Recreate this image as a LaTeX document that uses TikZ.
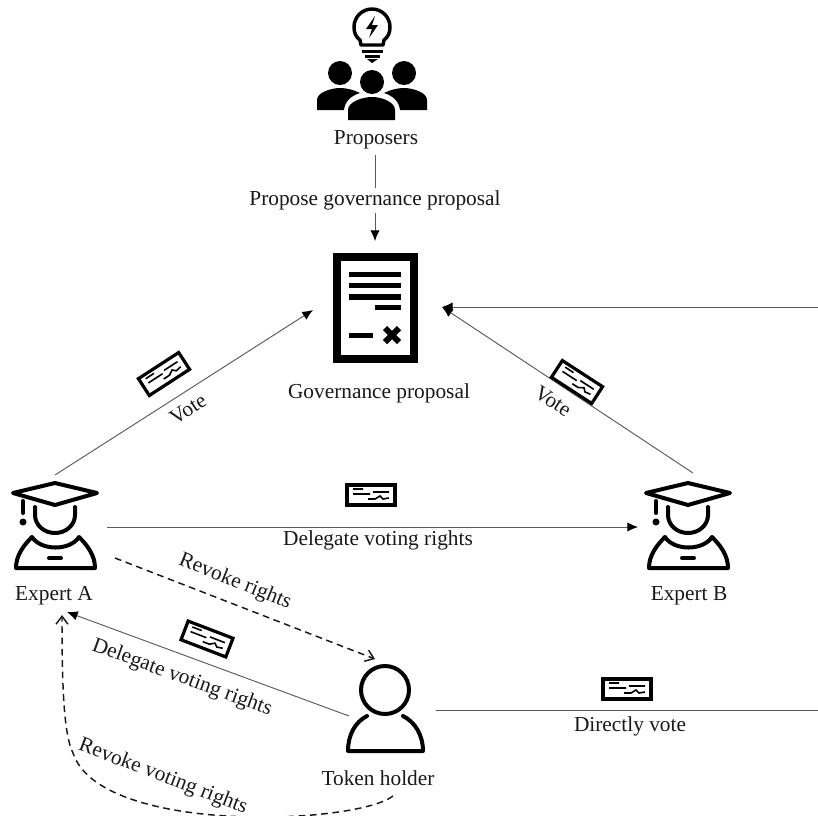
\documentclass[tikz,border=0pt]{standalone}
\usepackage{fontspec}
\setmainfont{Liberation Serif}
\usetikzlibrary{arrows.meta}
\tikzset{
  x=0.75pt, y=-0.75pt,
  every node/.style={font=\fontsize{16}{18}\selectfont, text=black!90},
  link/.style={draw=black!65, line width=0.7pt, -{Latex[length=8pt,width=7pt,black]}},
  dashlink/.style={draw=black!90, line width=1.1pt, dash pattern=on 5pt off 3.5pt, -{Straight Barb[length=6pt,width=9pt]}},
  pics/ballot/.style={code={
    \draw [line width=2.4pt] (-24,-10) rectangle (24,10);
    \draw [line width=1.2pt] (-18,-6)--(-8,-6) (-18,-1)--(-1,-1) (2,-3)--(18,-3) (-3,4)--(4,4) (4,4)--(9,1)--(12,4)--(18,3);
  }},
  pics/expert/.style={code={
    \begin{scope}[line width=3pt, line join=round, line cap=round]
    \draw (0,-42)--(-42,-32)--(0,-20)--(42,-32)--cycle;
    \draw (-20,-18)--(-20,-10) arc[start angle=180, end angle=0, x radius=20, y radius=18]--(20,-18);
    \draw (-32,-24)--(-32,-12);
    \draw (-23,12) .. controls (-31,20) and (-39,30) .. (-39,43)--(40,43) .. controls (40,30) and (32,20) .. (24,12) .. controls (15,26) and (-14,26) .. (-23,12);
    \draw (-6,33)--(6,33);
    \end{scope}
    \fill (-32,-3) circle[radius=3.5];
  }}
}
\begin{document}
\begin{tikzpicture}
\useasboundingbox (0,0) rectangle (818,815);
% proposers
\draw [line width=2.6pt, line join=round] (361,45)--(360,40) .. controls (356,37) and (354,33) .. (354,27) arc[start angle=180, end angle=360, radius=18] .. controls (390,33) and (388,37) .. (384,40)--(383,45)--cycle;
\fill (362,50) rectangle (383,53);
\fill (365,55) rectangle (380,58);
\fill (367,59)--(378,59)--(372,63)--cycle;
\fill (375,16)--(366,29)--(372,29)--(369,38)--(378,25)--(372,25)--cycle;
\fill (340,73) circle[radius=12];
\fill (404,73) circle[radius=12];
\fill (317,110)--(317,100) .. controls (317,92) and (332,88) .. (340,88) .. controls (347,88) and (354,90) .. (360,93) .. controls (350,96) and (345,102) .. (344,110)--cycle;
\fill (427,110)--(427,100) .. controls (427,92) and (412,88) .. (404,88) .. controls (397,88) and (390,90) .. (384,93) .. controls (394,96) and (399,102) .. (400,110)--cycle;
\fill (372,82) circle[radius=12];
\fill (348,120)--(348,110) .. controls (348,102) and (362,97) .. (372,97) .. controls (382,97) and (395,102) .. (395,110)--(395,120)--cycle;
\node (proposers) at (376,140) {Proposers};
% proposal
\draw [line width=6.5pt] (337,257) rectangle (414,359);
\fill (349,272) rectangle (401,277);
\fill (349,283) rectangle (401,288);
\fill (349,294) rectangle (401,300);
\fill (375,305) rectangle (401,310);
\fill (349,333) rectangle (373,338);
\draw [line width=4.5pt] (385,328)--(399,342) (399,328)--(385,342);
\node (proposal) at (379,393) {Governance proposal};
\coordinate (proposalT) at (375,241);
\coordinate (proposalL) at (313,310);
\coordinate (proposalR) at (442,307);
\coordinate (offR) at (818,307);
\coordinate (offR2) at (818,710);
% experts and holder
\pic at (55,525) {expert};
\pic at (688,525) {expert};
\node (expertA) at (54,596) {Expert A};
\node (expertB) at (689,596) {Expert B};
\draw [line width=3pt] (385,690) circle[radius=24];
\draw [line width=3pt, line join=round, line cap=round] (367,716) .. controls (355,722) and (348,735) .. (348,751)--(423,751) .. controls (423,735) and (415,722) .. (403,716);
\node (holder) at (378,778) {Token holder};
\coordinate (propS) at (375,155);
\coordinate (aN) at (55,475);
\coordinate (bN) at (693,473);
\coordinate (aE) at (107,527);
\coordinate (bW) at (638,527);
\coordinate (aSE) at (115,558);
\coordinate (hN) at (375,659);
\coordinate (hW) at (349,716);
\coordinate (aS) at (67,612);
\coordinate (aS2) at (62,615);
\coordinate (hE) at (436,710);
\coordinate (hS) at (393,796);
\coordinate (curve1) at (73,753);
% connectors
\draw [link] (propS)-- node[fill=white, inner sep=2pt, pos=.53]{Propose governance proposal} (proposalT);
\draw [link] (aN)--(proposalL);
\draw [link] (bN)--(proposalR);
\draw [link] (offR)--(proposalR);
\draw [link] (aE)--(bW);
\draw [link] (hW)--(aS);
\draw [draw=black!65, line width=0.7pt] (hE)--(offR2);
\draw [dashlink] (aSE)--(hN);
\draw [dashlink] (hS) .. controls (355,825) and (100,835) .. (curve1) .. controls (64,735) and (62,690) .. (aS2);
% ballots and labels
\pic [rotate=33] at (164,374) {ballot};
\pic [rotate=-33] at (577,382) {ballot};
\pic at (371,495) {ballot};
\pic [rotate=-21] at (207,639) {ballot};
\pic at (627,689) {ballot};
\node [rotate=33] (voteA) at (188,409) {Vote};
\node [rotate=-33] (voteB) at (553,401) {Vote};
\node (delegateAB) at (378,540) {Delegate voting rights};
\node [rotate=-22] (revokeA) at (235,582) {Revoke rights};
\node [rotate=-20] (delegateH) at (182,678) {Delegate voting rights};
\node (direct) at (630,726) {Directly vote};
\node [rotate=-21] (revokeH) at (163,777) {Revoke voting rights};
\end{tikzpicture}
\end{document}
